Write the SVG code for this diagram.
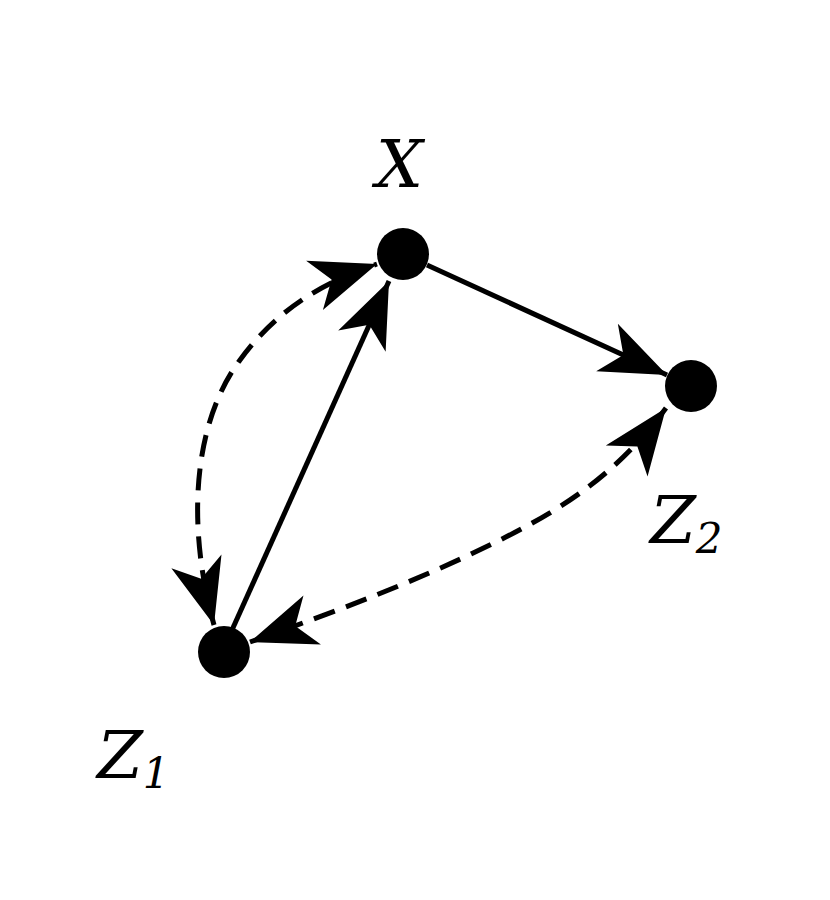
<svg xmlns="http://www.w3.org/2000/svg" width="830" height="900" viewBox="0 0 830 900">
<style>
.n{fill:#000}
.e{fill:none;stroke:#000;stroke-width:5}
.d{stroke-dasharray:22 12}
.t{font-family:"DejaVu Serif","Liberation Serif",serif;font-style:italic;font-size:66px;fill:#000}
.s{font-size:42px}
</style>
<defs>
<marker id="a" viewBox="-70 -30 75 60" refX="0" refY="0" markerWidth="75" markerHeight="60" markerUnits="userSpaceOnUse" orient="auto-start-reverse">
<path d="M0,0 L-66,-26 L-48,0 L-66,26 z" fill="#000"/>
</marker>
</defs>
<rect width="830" height="900" fill="#fff"/>
<g id="connectors">
<path class="e" d="M427,265 L667,375" marker-end="url(#a)"/>
<path class="e" d="M232,630 L389,281" marker-end="url(#a)"/>
<path class="e d" d="M214,625 C185,520 195,420 240,360 C280,305 330,280 377,264" marker-start="url(#a)" marker-end="url(#a)"/>
<path class="e d" d="M250,642 C340,610 420,580 500,540 C570,505 620,470 666,408" marker-start="url(#a)" marker-end="url(#a)"/>
</g>
<g id="X"><circle class="n" cx="403" cy="254" r="26"/><text class="t" x="376" y="187">X</text></g>
<g id="Z2"><circle class="n" cx="691" cy="386" r="26"/><text class="t" x="650" y="543">Z<tspan class="s" dy="10">2</tspan></text></g>
<g id="Z1"><circle class="n" cx="224" cy="652" r="26"/><text class="t" x="97" y="778">Z<tspan class="s" dy="10">1</tspan></text></g>
</svg>
